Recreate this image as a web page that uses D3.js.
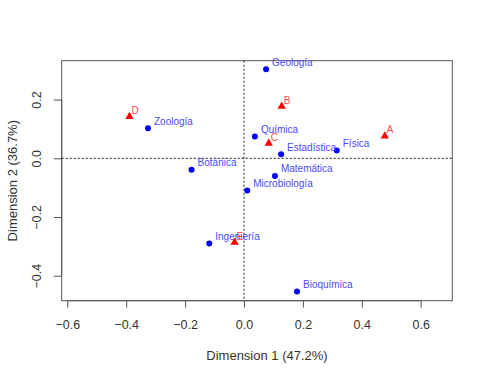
<!DOCTYPE html>
<html><head><meta charset="utf-8">
<script src="https://cdn.jsdelivr.net/npm/d3@7"></script>
<style>body{margin:0;background:#fff}svg{display:block}text{font-family:"Liberation Sans",Arial,sans-serif}</style>
</head><body>
<svg id="c" width="480" height="379"></svg>
<script>
const rowNames = ["Geología","Zoología","Química","Estadística","Física","Botánica","Matemática","Microbiología","Ingeniería","Bioquímica"];
const rowX = [0.075,-0.326,0.037,0.126,0.315,-0.178,0.105,0.011,-0.118,0.180];
const rowY = [0.303,0.102,0.074,0.014,0.027,-0.039,-0.060,-0.110,-0.290,-0.454];
const colNames = ["A","B","C","D","E"];
const colX = [0.478,0.128,0.084,-0.389,-0.032];
const colY = [0.076,0.177,0.051,0.142,-0.286];
const xTicks = [-0.6,-0.4,-0.2,0.0,0.2,0.4,0.6];
const yTicks = [-0.4,-0.2,0.0,0.2];

const svg = d3.select("#c");
const L=61.7,R=452.3,T=60.7,B=300.7;
const x = d3.scaleLinear().domain([-0.6,0.6]).range([67.3,420.7]);
const y = d3.scaleLinear().domain([-0.4,0.2]).range([275.7,99.6]);

svg.append("line").attr("x1",x(0)).attr("x2",x(0)).attr("y1",T).attr("y2",B)
  .attr("stroke","#000").attr("stroke-width",0.9).attr("stroke-dasharray","2,2");
svg.append("line").attr("x1",L).attr("x2",R).attr("y1",y(0)).attr("y2",y(0))
  .attr("stroke","#000").attr("stroke-width",0.9).attr("stroke-dasharray","2,2");

svg.append("rect").attr("x",L).attr("y",T).attr("width",R-L).attr("height",B-T)
  .attr("fill","none").attr("stroke","#555").attr("stroke-width",1);

const xa = svg.append("g").attr("transform",`translate(0,${B})`)
  .call(d3.axisBottom(x).tickValues(xTicks).tickFormat(d3.format(".1f")).tickSize(7).tickSizeOuter(0));
xa.select(".domain").attr("d",`M${x(-0.6)},0H${x(0.6)}`).attr("stroke","#555");
xa.selectAll(".tick line").attr("stroke","#555");
xa.selectAll(".tick text").attr("font-size",12.5).attr("fill","#333").attr("dy",0).attr("y",28)
  .attr("font-family","Liberation Sans, Arial, sans-serif");

const ya = svg.append("g").attr("transform",`translate(${L},0)`)
  .call(d3.axisLeft(y).tickValues(yTicks).tickFormat(d3.format(".1f")).tickSize(8).tickSizeOuter(0));
ya.select(".domain").attr("d",`M0,${y(-0.4)}V${y(0.2)}`).attr("stroke","#555");
ya.selectAll(".tick line").attr("stroke","#555");
ya.selectAll(".tick text").attr("font-size",12.5).attr("fill","#333")
  .attr("x",0).attr("dy",0).attr("text-anchor","middle")
  .attr("transform","translate(-21,0) rotate(-90)")
  .attr("font-family","Liberation Sans, Arial, sans-serif");

svg.append("text").attr("x",(L+R)/2+10).attr("y",360).attr("text-anchor","middle")
  .attr("font-size",13).attr("fill","#333").text("Dimension 1 (47.2%)");
svg.append("text").attr("transform",`translate(17,${(T+B)/2}) rotate(-90)`).attr("text-anchor","middle")
  .attr("font-size",13).attr("fill","#333").text("Dimension 2 (36.7%)");

const rows = rowNames.map((n,i)=>({n,x:rowX[i],y:rowY[i]}));
svg.selectAll("circle.r").data(rows).join("circle").attr("class","r")
  .attr("cx",d=>x(d.x)).attr("cy",d=>y(d.y)).attr("r",3).attr("fill","#0000ff");
svg.selectAll("text.r").data(rows).join("text").attr("class","r")
  .attr("x",d=>x(d.x)+6).attr("y",d=>y(d.y)-3.5).attr("font-size",10)
  .attr("fill","#4a4aff").text(d=>d.n);

const cols = colNames.map((n,i)=>({n,x:colX[i],y:colY[i]}));
const tri = d3.symbol().type(d3.symbolTriangle).size(30);
svg.selectAll("path.c").data(cols).join("path").attr("class","c")
  .attr("transform",d=>`translate(${x(d.x)},${y(d.y)})`).attr("d",tri).attr("fill","#ff0000");
svg.selectAll("text.c").data(cols).join("text").attr("class","c")
  .attr("x",d=>x(d.x)+2).attr("y",d=>y(d.y)-2.5).attr("font-size",10)
  .attr("fill","#ff4a4a").text(d=>d.n);
</script>
</body></html>
